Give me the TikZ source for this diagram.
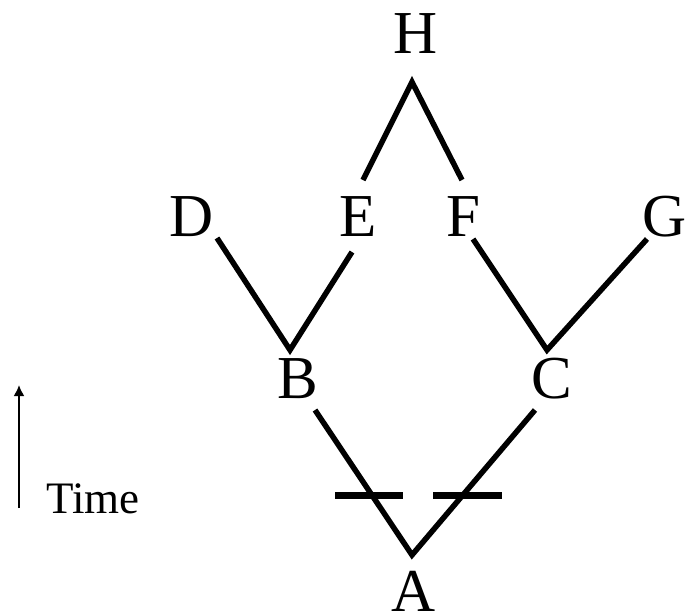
\documentclass[tikz,border=0pt]{standalone}
\usepackage{fontspec}
\setmainfont{Liberation Serif}
\usetikzlibrary{arrows.meta}
\begin{document}
\begin{tikzpicture}[x=1pt,y=-1pt,
  lbl/.style={inner sep=0pt,font=\fontsize{61}{61}\selectfont},
  branch/.style={line width=5.5pt},
  cut/.style={line width=7pt},
  axis/.style={line width=2pt,-{Latex[length=11pt,width=11pt]}}]
\useasboundingbox (0,0) rectangle (686,616);
% letters
\node[lbl] (H) at (416,34) {H};
\node[lbl] (D) at (192,217) {D};
\node[lbl] (E) at (358,217) {E};
\node[lbl] (F) at (463,217) {F};
\node[lbl] (G) at (665,217) {G};
\node[lbl] (B) at (298,379) {B};
\node[lbl] (C) at (552,379) {C};
\node[lbl] (A) at (414,591) {A};
\node[inner sep=0pt,font=\fontsize{45}{45}\selectfont] (T) at (93,499) {Time};
% junctions and line ends
\coordinate (jH) at (412,82);
\coordinate (jB) at (290,350);
\coordinate (jC) at (547,350);
\coordinate (jA) at (412,555);
\coordinate (eE1) at (363,180);
\coordinate (eF1) at (462,180);
\coordinate (eD) at (217,238);
\coordinate (eE2) at (352,252);
\coordinate (eF2) at (473,239);
\coordinate (eG) at (647,239);
\coordinate (eB) at (315,410);
\coordinate (eC) at (535,410);
\coordinate (b1s) at (335,495);
\coordinate (b1e) at (403,495);
\coordinate (b2s) at (433,495);
\coordinate (b2e) at (502,495);
\coordinate (t0) at (19,508);
\coordinate (t1) at (19,385);
% branches
\draw[branch] (eE1) -- (jH) -- (eF1);
\draw[branch] (eD) -- (jB) -- (eE2);
\draw[branch] (eF2) -- (jC) -- (eG);
\draw[branch] (eB) -- (jA) -- (eC);
% cuts
\draw[cut] (b1s) -- (b1e);
\draw[cut] (b2s) -- (b2e);
% time axis
\draw[axis] (t0) -- (t1);
\end{tikzpicture}
\end{document}
